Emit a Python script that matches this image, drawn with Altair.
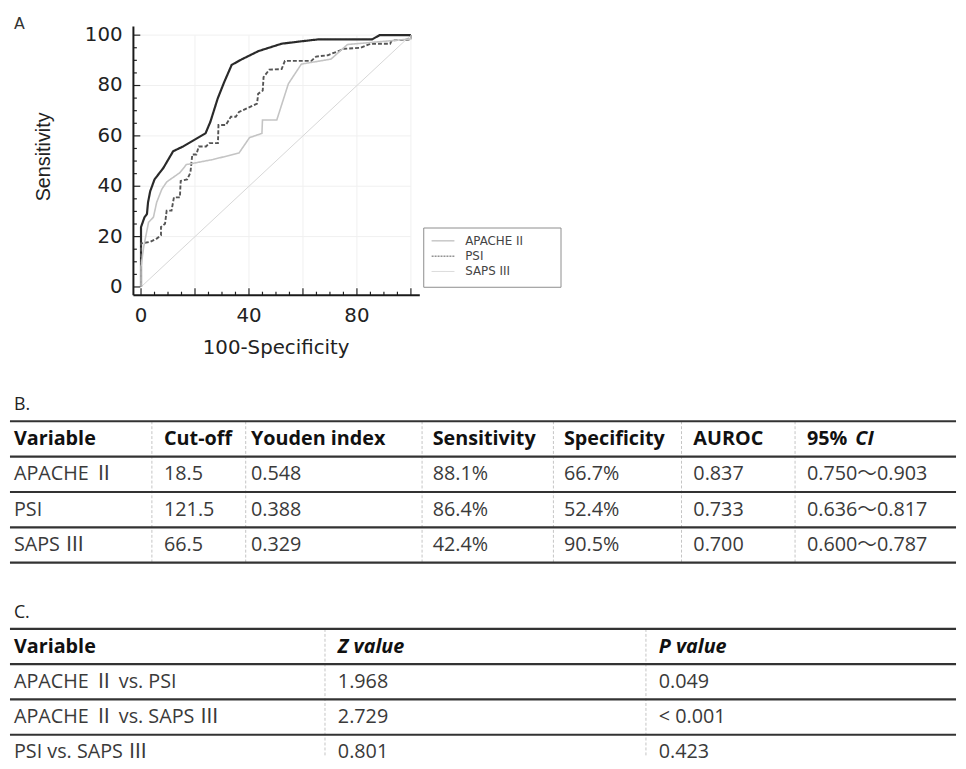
import altair as alt
import pandas as pd

# ---------------- data ----------------
series_names = ["APACHE II", "PSI", "SAPS III"]

apache_x = [0, 0, 1.3, 2.2, 2.6, 3.4, 5.0, 8.3, 11.9, 15.6, 23.9, 25.7, 28.4, 30.8, 33.6,
            37.5, 43.6, 52.1, 58.2, 65.5, 85.6, 88.4, 100]
apache_y = [0, 23.8, 27.7, 29.0, 33.6, 38.0, 42.7, 47.3, 53.9, 55.8, 61.0, 65.6, 74.8, 81.3, 88.2,
            90.5, 93.7, 96.6, 97.4, 98.3, 98.3, 100, 100]

psi_x = [0, 0, 3.4, 5.8, 7.4, 7.4, 8.9, 9.5, 11.3, 12.2, 14.4, 14.7, 17.1, 18.3, 19.0, 20.5,
         21.4, 24.1, 25.3, 28.5, 28.7, 31.4, 33.3, 35.1, 36.3, 43.0, 43.4, 45.1, 45.4, 47.5,
         52.1, 53.3, 63.1, 64.9, 69.2, 75.3, 81.4, 85.0, 92.3, 92.9, 100, 100]
psi_y = [0, 17.3, 17.9, 19.2, 20.5, 23.8, 25.1, 30.3, 30.3, 35.6, 35.6, 42.1, 42.7, 45.4, 52.6,
         52.6, 55.8, 55.8, 57.1, 57.1, 64.3, 64.3, 67.6, 67.6, 69.5, 72.8, 76.7, 78.0, 83.3,
         86.3, 86.5, 89.8, 89.8, 91.5, 92.0, 94.6, 95.0, 96.6, 96.6, 97.9, 98.3, 100]

saps_x = [0, 0, 1.0, 2.8, 4.6, 5.8, 7.7, 9.5, 14.4, 16.8, 26.6, 36.3, 40.2, 44.8, 45.0, 50.3,
          54.6, 59.4, 70.4, 76.5, 80.0, 100, 100]
saps_y = [0, 8.0, 16.0, 25.7, 27.7, 33.6, 38.8, 41.7, 45.4, 48.6, 50.6, 53.2, 59.3, 61.0, 66.3,
          66.3, 80.7, 88.5, 90.5, 96.3, 96.6, 98.5, 100]

x_tick_labels = [0, 40, 80]
y_tick_labels = [0, 20, 40, 60, 80, 100]
x_title = "100-Specificity"
y_title = "Sensitivity"

tb_header = ["Variable", "Cut-off", "Youden index", "Sensitivity", "Specificity", "AUROC", "95% CI"]
tb_variable = ["APACHE Ⅱ", "PSI", "SAPS Ⅲ"]
tb_cutoff = ["18.5", "121.5", "66.5"]
tb_youden = ["0.548", "0.388", "0.329"]
tb_sens = ["88.1%", "86.4%", "42.4%"]
tb_spec = ["66.7%", "52.4%", "90.5%"]
tb_auroc = ["0.837", "0.733", "0.700"]
tb_ci = ["0.750～0.903", "0.636～0.817", "0.600～0.787"]

tc_header = ["Variable", "Z value", "P value"]
tc_variable = ["APACHE Ⅱ vs. PSI", "APACHE Ⅱ vs. SAPS Ⅲ", "PSI vs. SAPS Ⅲ"]
tc_z = ["1.968", "2.729", "0.801"]
tc_p = ["0.049", "< 0.001", "0.423"]

# ---------------- layout ----------------
W = 958
HA, HB, HC = 380, 190, 183
AX_FONT = "DejaVu Sans"
TB_FONT = "Open Sans, Noto Sans CJK SC"
TXT = "#222222"

# panel A: pixel anchors of the data values 0 and 100
X0_PX, X100_PX = 132.7, 406.0
Y100_PX, Y0_PX = 22.7, 277.7
kx = (X100_PX - X0_PX) / 100.0
ky = (Y0_PX - Y100_PX) / 100.0


def vx(px):
    return (px - X0_PX) / kx


def vy(py):
    return (Y0_PX - py) / ky


AXIS_X_PX = 125.0   # y axis line
AXIS_Y_PX = 286.0   # x axis line
xs = alt.Scale(domain=[vx(0), vx(W)], nice=False, zero=False)
ys = alt.Scale(domain=[vy(HA), vy(0)], nice=False, zero=False)

rows = []
for name, sx, sy in zip(series_names, [apache_x, psi_x, saps_x], [apache_y, psi_y, saps_y]):
    for i, (a, b) in enumerate(zip(sx, sy)):
        rows.append({"series": name, "fpr": a, "tpr": b, "order": i})
roc_df = pd.DataFrame(rows)

curves = alt.Chart(roc_df).mark_line().encode(
    x=alt.X("fpr:Q", scale=xs, axis=None),
    y=alt.Y("tpr:Q", scale=ys, axis=None),
    color=alt.Color("series:N", scale=alt.Scale(domain=series_names,
                    range=["#2a2a2a", "#555555", "#c4c4c4"]), legend=None),
    strokeDash=alt.StrokeDash("series:N", scale=alt.Scale(domain=series_names,
                              range=[[1, 0], [4, 2], [1, 0]]), legend=None),
    strokeWidth=alt.StrokeWidth("series:N", scale=alt.Scale(domain=series_names,
                                range=[2.2, 1.6, 1.3]), legend=None),
    order="order:Q",
)

diag = alt.Chart(pd.DataFrame({"fpr": [0, 100], "tpr": [0, 100]})).mark_line(
    color="#d6d6d6", strokeWidth=1).encode(
    x=alt.X("fpr:Q", scale=xs, axis=None), y=alt.Y("tpr:Q", scale=ys, axis=None))

grid_vals = [20, 40, 60, 80, 100]
grid_df = pd.DataFrame({"g": grid_vals, "lo": [0] * len(grid_vals), "hi": [100] * len(grid_vals)})
grid_v = alt.Chart(grid_df).mark_rule(color="#f0f0f0", strokeWidth=1).encode(
    x=alt.X("g:Q", scale=xs, axis=None),
    y=alt.Y("lo:Q", scale=ys, axis=None), y2="hi:Q")
grid_h = alt.Chart(grid_df).mark_rule(color="#f0f0f0", strokeWidth=1).encode(
    y=alt.Y("g:Q", scale=ys, axis=None),
    x=alt.X("lo:Q", scale=xs, axis=None), x2="hi:Q")

tick_vals = list(range(0, 101, 5))
tick_df = pd.DataFrame({"t": tick_vals,
                        "len": [7 if t % 20 == 0 else 3.5 for t in tick_vals]})
tick_df["xb"] = vy(AXIS_Y_PX)
tick_df["xt"] = vy(AXIS_Y_PX) + tick_df["len"] / ky
tick_df["yb"] = vx(AXIS_X_PX)
tick_df["yt"] = vx(AXIS_X_PX) + tick_df["len"] / kx

ticks_x = alt.Chart(tick_df).mark_rule(color="#222", strokeWidth=1.2).encode(
    x=alt.X("t:Q", scale=xs, axis=None),
    y=alt.Y("xb:Q", scale=ys, axis=None), y2="xt:Q")
ticks_y = alt.Chart(tick_df).mark_rule(color="#222", strokeWidth=1.2).encode(
    y=alt.Y("t:Q", scale=ys, axis=None),
    x=alt.X("yb:Q", scale=xs, axis=None), x2="yt:Q")

axis_df = pd.DataFrame({"xa": [vx(AXIS_X_PX)], "xe": [vx(415)],
                        "ya": [vy(AXIS_Y_PX)], "ye": [vy(14)]})
axis_x_line = alt.Chart(axis_df).mark_rule(color="#1a1a1a", strokeWidth=2).encode(
    y=alt.Y("ya:Q", scale=ys, axis=None),
    x=alt.X("xa:Q", scale=xs, axis=None), x2="xe:Q")
axis_y_line = alt.Chart(axis_df).mark_rule(color="#1a1a1a", strokeWidth=2).encode(
    x=alt.X("xa:Q", scale=xs, axis=None),
    y=alt.Y("ya:Q", scale=ys, axis=None), y2="ye:Q")

# tick labels drawn through the scales
xl_df = pd.DataFrame({"v": x_tick_labels, "p": [vy(AXIS_Y_PX + 11)] * len(x_tick_labels)})
x_labels = alt.Chart(xl_df).mark_text(font=AX_FONT, fontSize=20, color=TXT, align="center",
                                      baseline="top").encode(
    x=alt.X("v:Q", scale=xs, axis=None), y=alt.Y("p:Q", scale=ys, axis=None), text="v:Q")
yl_df = pd.DataFrame({"v": y_tick_labels, "p": [vx(AXIS_X_PX - 11)] * len(y_tick_labels)})
y_labels = alt.Chart(yl_df).mark_text(font=AX_FONT, fontSize=20, color=TXT, align="right",
                                      baseline="middle").encode(
    y=alt.Y("v:Q", scale=ys, axis=None), x=alt.X("p:Q", scale=xs, axis=None), text="v:Q")

one = pd.DataFrame({"k": [0]})
x_title_mark = alt.Chart(one).mark_text(font=AX_FONT, fontSize=20, color=TXT, align="center",
                                        baseline="alphabetic", text=x_title).encode(
    x=alt.value(269.5), y=alt.value(346))
y_title_mark = alt.Chart(one).mark_text(font="Liberation Sans", fontSize=20, color=TXT,
                                        align="center", baseline="alphabetic", angle=270,
                                        text=y_title).encode(
    x=alt.value(41), y=alt.value(146))

# manual legend (box + samples + labels)
LEG_L, LEG_R, LEG_T, LEG_B = 419, 558, 218, 278
legend_layers = [alt.Chart(one).mark_rect(fillOpacity=0, stroke="#8c8c8c", strokeWidth=1).encode(
    x=alt.value(LEG_L), x2=alt.value(LEG_R), y=alt.value(LEG_T), y2=alt.value(LEG_B))]
sample_colors = ["#a0a0a0", "#5a5a5a", "#d0d0d0"]
sample_dash = [[1, 0], [2, 1], [1, 0]]
for i, name in enumerate(series_names):
    yy = 231 + 15.5 * i
    legend_layers.append(alt.Chart(one).mark_rule(
        color=sample_colors[i], strokeDash=sample_dash[i], strokeWidth=1).encode(
        x=alt.value(LEG_L + 8), x2=alt.value(LEG_R - 108), y=alt.value(yy)))
    legend_layers.append(alt.Chart(one).mark_text(
        align="left", baseline="middle", font=AX_FONT, fontSize=12, color="#444",
        text=name).encode(x=alt.value(LEG_L + 42), y=alt.value(yy)))

label_a = alt.Chart(one).mark_text(align="left", baseline="alphabetic", font=AX_FONT,
                                   fontSize=16, color="#333", text="A").encode(
    x=alt.value(4), y=alt.value(16))

panel_a = alt.layer(grid_v, grid_h, diag, curves, ticks_x, ticks_y, axis_x_line, axis_y_line,
                    x_labels, y_labels, x_title_mark, y_title_mark,
                    label_a, *legend_layers).properties(width=W, height=HA)


# ---------------- tables ----------------
def make_table(header, columns, text_x, sep_x, top_px, row_px, height, label,
               italic_header, n_lines, sep_bottom):
    tx = alt.Scale(domain=[0, W], nice=False, zero=False)
    ty = alt.Scale(domain=[-top_px / row_px, (height - top_px) / row_px],
                   reverse=True, nice=False, zero=False)
    body = []
    for r in range(len(columns[0])):
        for j, col in enumerate(columns):
            body.append({"text": col[r], "x": text_x[j], "y": r + 1.5})

    head_plain, head_ital = [], []
    for j, h in enumerate(header):
        if h in italic_header:
            head_ital.append({"text": h, "x": text_x[j], "y": 0.5})
        elif h.endswith(" CI"):
            head_plain.append({"text": h[:-3], "x": text_x[j], "y": 0.5})
            head_ital.append({"text": "CI", "x": text_x[j] + 49, "y": 0.5})
        else:
            head_plain.append({"text": h, "x": text_x[j], "y": 0.5})

    def txt(recs, **kw):
        return alt.Chart(pd.DataFrame(recs)).mark_text(
            align="left", baseline="middle", font=TB_FONT, fontSize=20, **kw).encode(
            x=alt.X("x:Q", scale=tx, axis=None), y=alt.Y("y:Q", scale=ty, axis=None),
            text="text:N")

    n = n_lines
    hl = alt.Chart(pd.DataFrame({"b": list(range(n)), "l": [0] * n, "r": [W] * n})).mark_rule(
        color="#333", strokeWidth=2.2).encode(
        y=alt.Y("b:Q", scale=ty, axis=None),
        x=alt.X("l:Q", scale=tx, axis=None), x2="r:Q")
    m = len(sep_x)
    vl = alt.Chart(pd.DataFrame({"s": sep_x, "t": [0] * m, "u": [sep_bottom] * m})).mark_rule(
        color="#c4c4c4", strokeWidth=1, strokeDash=[3, 2]).encode(
        x=alt.X("s:Q", scale=tx, axis=None),
        y=alt.Y("t:Q", scale=ty, axis=None), y2="u:Q")
    lab = alt.Chart(pd.DataFrame([{"text": label, "x": 4, "y": -0.45}])).mark_text(
        align="left", baseline="middle", font=TB_FONT, fontSize=18, color="#222").encode(
        x=alt.X("x:Q", scale=tx, axis=None), y=alt.Y("y:Q", scale=ty, axis=None),
        text="text:N")
    layers = [vl, hl, lab, txt(body, color="#3a3a3a"),
              txt(head_plain, color="#111", fontWeight="bold")]
    if head_ital:
        layers.append(txt(head_ital, color="#111", fontWeight="bold", fontStyle="italic"))
    return alt.layer(*layers).properties(width=W, height=height)


panel_b = make_table(tb_header,
                     [tb_variable, tb_cutoff, tb_youden, tb_sens, tb_spec, tb_auroc, tb_ci],
                     [4, 156, 244, 428, 561, 692, 807],
                     [143.7, 238.7, 417.3, 550.3, 680, 795],
                     33.7, 35.8, HB, "B.", [], 5, 4)
panel_c = make_table(tc_header, [tc_variable, tc_z, tc_p],
                     [4, 332, 657], [319, 644],
                     54, 35.7, HC, "C.", ["Z value", "P value"], 4, (HC - 54) / 35.7)

chart = alt.vconcat(panel_a, panel_b, panel_c, spacing=0, padding=0).configure_view(
    stroke=None).properties(background="white")

chart.save("out.html", embed_options={"renderer": "svg", "actions": False})
